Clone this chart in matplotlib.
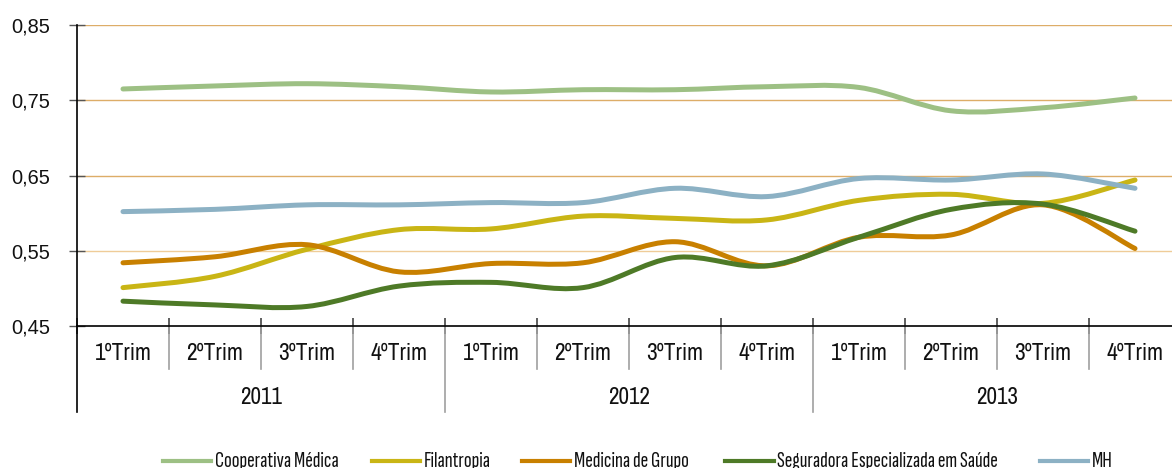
import matplotlib
matplotlib.use("Agg")
import matplotlib.pyplot as plt
from matplotlib.path import Path
from matplotlib.patches import PathPatch
from matplotlib.lines import Line2D
import matplotlib.transforms as mtransforms
from matplotlib import font_manager

names = {f.name for f in font_manager.fontManager.ttflist}


def pick(*cands):
    return [c for c in cands if c in names] + ['Liberation Sans', 'DejaVu Sans']


base_font = pick('Liberation Sans', 'Arimo')
xlab_font = pick('Archivo Narrow', 'Roboto Condensed', 'Open Sans Condensed')
leg_font = pick('Sofia Sans Extra Condensed', 'Fira Sans Extra Condensed',
                'Barlow Condensed', 'Roboto Condensed')
plt.rcParams['font.family'] = base_font

quarters = ["1ºTrim", "2ºTrim", "3ºTrim", "4ºTrim"] * 3
years = ["2011", "2012", "2013"]
series_names = ["Cooperativa Médica", "Filantropia", "Medicina de Grupo",
                "Seguradora Especializada em Saúde", "MH"]
cooperativa = [0.765, 0.769, 0.772, 0.768, 0.761, 0.764, 0.764, 0.768, 0.767, 0.736, 0.740, 0.753]
filantropia = [0.501, 0.516, 0.552, 0.578, 0.579, 0.596, 0.593, 0.591, 0.617, 0.625, 0.613, 0.644]
medicina = [0.534, 0.542, 0.558, 0.522, 0.533, 0.534, 0.562, 0.530, 0.568, 0.571, 0.611, 0.553]
seguradora = [0.483, 0.478, 0.476, 0.503, 0.508, 0.501, 0.541, 0.530, 0.568, 0.605, 0.612, 0.576]
mh = [0.602, 0.605, 0.611, 0.611, 0.614, 0.614, 0.633, 0.622, 0.646, 0.644, 0.652, 0.633]
series = [cooperativa, filantropia, medicina, seguradora, mh]
colors = ["#9DC084", "#C9B515", "#C88000", "#4E7A27", "#8CB1C4"]
yticks = [0.45, 0.55, 0.65, 0.75, 0.85]

W, H = 1172, 468
fig = plt.figure(figsize=(W / 100, H / 100), dpi=100)
renderer = fig.canvas.get_renderer()


def fit_size(text, family, target_px, start=15.0):
    t = fig.text(0, 0, text, fontsize=start, family=family)
    w = t.get_window_extent(renderer).width
    t.remove()
    return start * target_px / w


xlab_size = fit_size("1ºTrim", xlab_font, 57)
year_size = fit_size("2011", xlab_font, 42)
leg_size = fit_size("Cooperativa Médica", leg_font, 124)
ytick_size = fit_size("0,85", base_font, 39)

ax = fig.add_axes([77 / W, (H - 326) / H, 1104 / W, 301 / H])
ax.set_xlim(-0.5, 11.5)
ax.set_ylim(0.45, 0.85)

for v in yticks[1:]:
    c = "#EFCC98" if abs(v - 0.55) < 1e-9 else "#DDAD68"
    ax.axhline(v, color=c, lw=1.0, zorder=1)


def smooth_path(xs, ys):
    pts = list(zip(xs, ys))
    n = len(pts)
    verts = [pts[0]]
    codes = [Path.MOVETO]
    for i in range(n - 1):
        p0 = pts[i - 1] if i > 0 else pts[i]
        p1 = pts[i]
        p2 = pts[i + 1]
        p3 = pts[i + 2] if i + 2 < n else pts[i + 1]
        c1 = (p1[0] + (p2[0] - p0[0]) / 6, p1[1] + (p2[1] - p0[1]) / 6)
        c2 = (p2[0] - (p3[0] - p1[0]) / 6, p2[1] - (p3[1] - p1[1]) / 6)
        verts += [c1, c2, p2]
        codes += [Path.CURVE4] * 3
    return Path(verts, codes)


xs = list(range(len(quarters)))
for vals, col in zip(series, colors):
    patch = PathPatch(smooth_path(xs, vals), fill=False, edgecolor=col, lw=3.6,
                      capstyle='round', joinstyle='round', zorder=3)
    ax.add_patch(patch)

for s in ["top", "right"]:
    ax.spines[s].set_visible(False)
for s in ["left", "bottom"]:
    ax.spines[s].set_color("black")
    ax.spines[s].set_linewidth(1.2)

ax.set_yticks(yticks)
ax.set_yticklabels([f"{v:.2f}".replace(".", ",") for v in yticks])
ax.tick_params(axis='y', direction='inout', length=11, width=1, color='#555555',
               pad=14, labelsize=ytick_size, labelcolor='#111111')
ax.set_xticks([i - 0.5 for i in range(13)])
ax.set_xticklabels([])
ax.tick_params(axis='x', direction='inout', length=12, width=1.2, color='#444444')

trans = mtransforms.blended_transform_factory(ax.transData, ax.transAxes)
q_y = -28 / 301
y_y = -71 / 301
sep_q = -43 / 301
sep_y = -86 / 301
for i, q in enumerate(quarters):
    ax.text(i, q_y, q, transform=trans, ha='center', va='center',
            fontsize=xlab_size, family=xlab_font, color='#111111')
for k, yr in enumerate(years):
    ax.text(4 * k + 1.5, y_y, yr, transform=trans, ha='center', va='center',
            fontsize=year_size, family=xlab_font, color='#111111')
for b in range(13):
    bottom = sep_y if b % 4 == 0 else sep_q
    col = 'black' if b == 0 else '#A0A0A0'
    ax.plot([b - 0.5, b - 0.5], [0, bottom], transform=trans, color=col,
            lw=1.2, clip_on=False, zorder=2)

# legend
leg_y = (H - 461) / H
txt_y = (H - 467) / H
leg_items = [(163, 211, 215), (372, 420, 424), (522, 570, 574), (725, 774, 777), (1040, 1088, 1092)]
for (x0, x1, tx), name, col in zip(leg_items, series_names, colors):
    fig.add_artist(Line2D([x0 / W, x1 / W], [leg_y, leg_y], color=col, lw=3.0,
                          transform=fig.transFigure))
    fig.text(tx / W, txt_y, name, ha='left', va='baseline', fontsize=leg_size,
             family=leg_font, color='#111111')

fig.savefig("out.png", dpi=100)
